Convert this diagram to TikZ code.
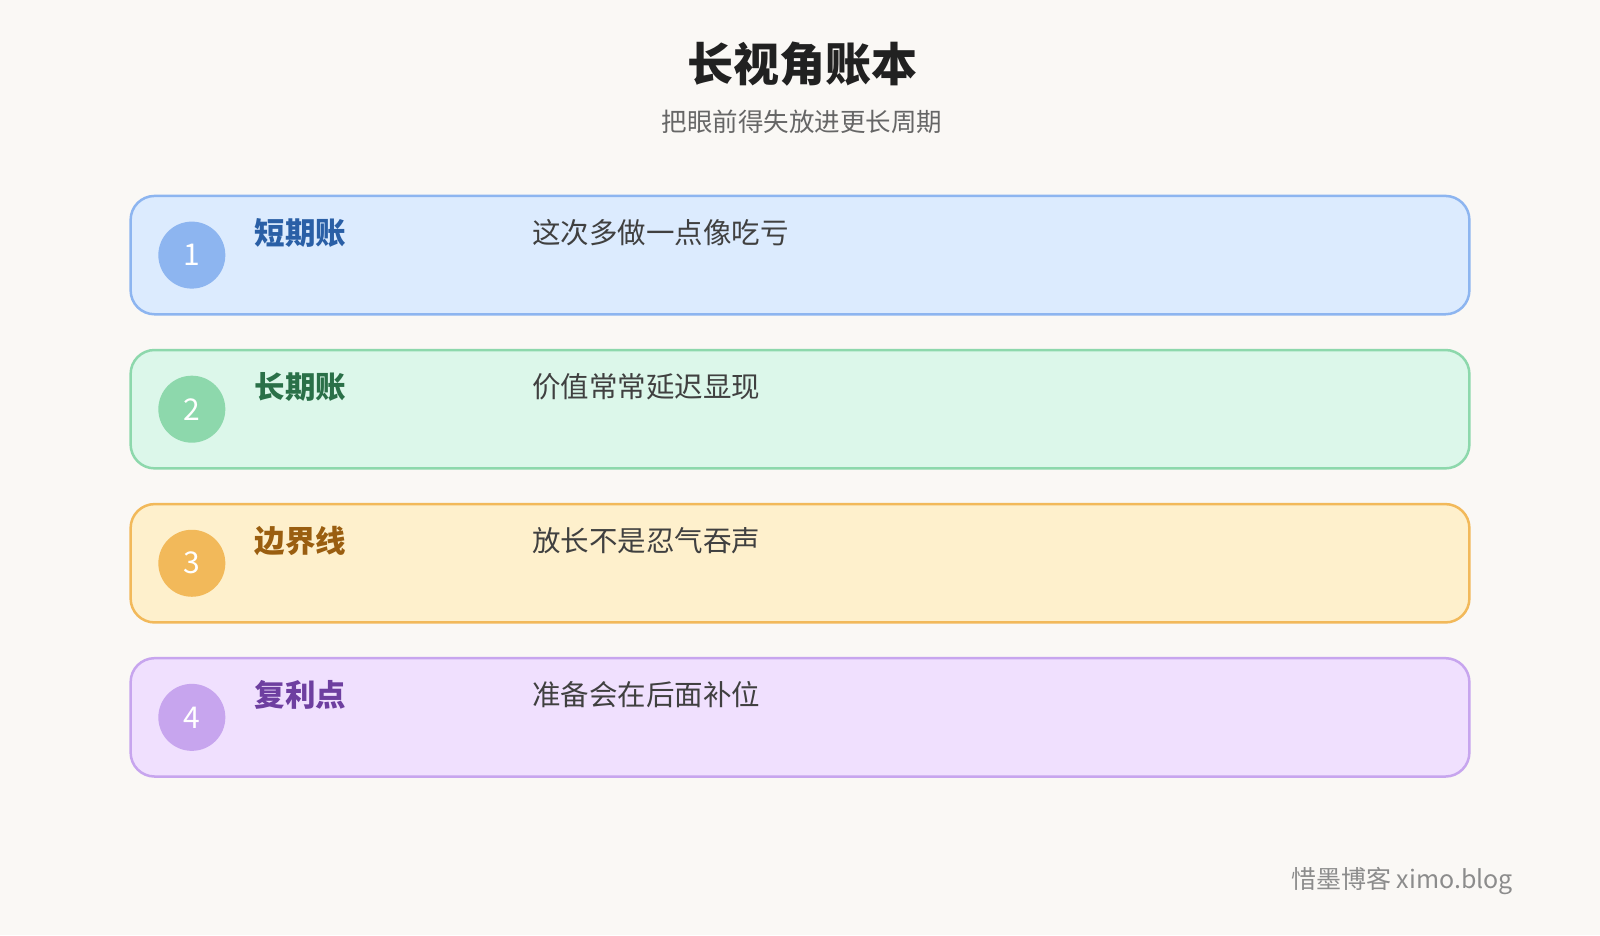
\documentclass[tikz,border=0pt]{standalone}
\usepackage{fontspec}
\setmainfont{Noto Sans CJK SC}
\begin{document}
\begin{tikzpicture}[x=1.0204pt,y=-1.0204pt,
  card/.style={draw=#1, line width=2.5pt, rounded corners=24pt},
  num/.style={circle, fill=#1, minimum size=67pt, inner sep=0pt, text=white, font=\fontsize{30}{30}\selectfont},
  lab/.style={anchor=west, font=\fontsize{30.5}{30}\selectfont\bfseries, text=#1},
  desc/.style={anchor=west, font=\fontsize{28.5}{30}\selectfont, text=black!75}]
\definecolor{bg}{HTML}{FAF8F5}
\fill[bg] (0,0) rectangle (1568,916.3);
\useasboundingbox (0,0) rectangle (1568,916.3);
\node[text=black!87] (title) at (786,63) {\fontsize{46}{48}\selectfont\bfseries 长视角账本};
\node[text=black!60] (sub) at (786,119) {\fontsize{25.5}{28}\selectfont 把眼前得失放进更长周期};
\def\row#1#2#3#4#5#6{
  \definecolor{f#1}{HTML}{#2}\definecolor{s#1}{HTML}{#3}\definecolor{l#1}{HTML}{#4}
  \pgfmathsetmacro\yy{192+151*(#1-1)}
  \draw[card=s#1, fill=f#1] (128,\yy) rectangle (1440,\yy+116);
  \node[num=s#1] (n#1) at (188,\yy+58) {#1};
  \node[lab=l#1] (l#1) at (246,\yy+36) {#5};
  \node[desc] (d#1) at (518,\yy+36) {#6};
}
\row{1}{DCEBFE}{8DB5F0}{2A5FA6}{短期账}{这次多做一点像吃亏}
\row{2}{DCF7EA}{8DD8AC}{2A7048}{长期账}{价值常常延迟显现}
\row{3}{FEF0CC}{F2B95A}{9A5E10}{边界线}{放长不是忍气吞声}
\row{4}{F0E0FE}{C7A5EE}{6E3FA0}{复利点}{准备会在后面补位}
\node[anchor=east, text=black!45] (foot) at (1486,863) {\fontsize{25}{28}\selectfont 惜墨博客 ximo.blog};
\end{tikzpicture}
\end{document}
